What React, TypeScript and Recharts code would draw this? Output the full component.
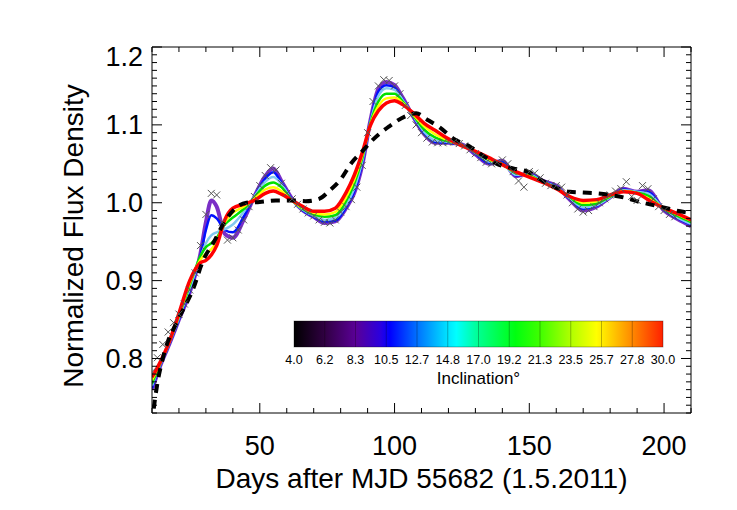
import React from 'react';
import { ComposedChart, Line, Scatter, XAxis, YAxis } from 'recharts';

// model days shared by the coloured fits
const fitDays = [10, 13, 16, 20, 24, 28, 30, 32, 34, 37, 40, 44, 48, 52, 55, 58, 62, 66, 70, 74, 78, 82, 85, 88, 91, 94, 97, 100, 103, 107, 111, 115, 120, 125, 130, 135, 140, 145, 150, 155, 160, 165, 170, 175, 180, 185, 190, 194, 200, 205, 210];

const fitPurple = [0.760, 0.790, 0.815, 0.850, 0.885, 0.935, 0.975, 1.003, 0.995, 0.960, 0.955, 0.978, 1.008, 1.034, 1.044, 1.028, 1.005, 0.990, 0.982, 0.974, 0.976, 0.993, 1.012, 1.048, 1.105, 1.146, 1.155, 1.151, 1.135, 1.110, 1.088, 1.077, 1.077, 1.075, 1.062, 1.050, 1.054, 1.034, 1.038, 1.028, 1.022, 1.004, 0.990, 0.995, 1.007, 1.018, 1.014, 1.016, 0.990, 0.979, 0.970];
const fitBlue = [0.762, 0.791, 0.815, 0.850, 0.887, 0.932, 0.965, 0.984, 0.980, 0.965, 0.962, 0.982, 1.008, 1.031, 1.039, 1.026, 1.004, 0.990, 0.982, 0.976, 0.977, 0.994, 1.014, 1.050, 1.104, 1.143, 1.151, 1.148, 1.133, 1.110, 1.089, 1.078, 1.077, 1.074, 1.063, 1.051, 1.052, 1.035, 1.037, 1.028, 1.021, 1.005, 0.992, 0.996, 1.007, 1.017, 1.014, 1.014, 0.991, 0.980, 0.972];
const fitLightBlue = [0.765, 0.792, 0.816, 0.852, 0.890, 0.930, 0.948, 0.958, 0.962, 0.966, 0.972, 0.988, 1.008, 1.027, 1.033, 1.024, 1.003, 0.991, 0.983, 0.978, 0.980, 0.997, 1.018, 1.053, 1.103, 1.137, 1.147, 1.145, 1.132, 1.111, 1.091, 1.080, 1.078, 1.074, 1.064, 1.053, 1.050, 1.036, 1.036, 1.027, 1.020, 1.006, 0.994, 0.997, 1.007, 1.016, 1.014, 1.012, 0.992, 0.981, 0.973];
const fitGreen = [0.768, 0.793, 0.817, 0.854, 0.894, 0.932, 0.943, 0.948, 0.955, 0.972, 0.981, 0.992, 1.007, 1.022, 1.026, 1.020, 1.003, 0.992, 0.985, 0.982, 0.984, 1.002, 1.024, 1.057, 1.102, 1.130, 1.140, 1.140, 1.130, 1.112, 1.094, 1.084, 1.079, 1.074, 1.065, 1.055, 1.050, 1.038, 1.035, 1.027, 1.019, 1.007, 0.997, 0.999, 1.008, 1.015, 1.013, 1.009, 0.992, 0.983, 0.975];
const fitYellow = [0.772, 0.794, 0.818, 0.855, 0.897, 0.927, 0.935, 0.940, 0.950, 0.975, 0.987, 0.995, 1.005, 1.017, 1.020, 1.015, 1.003, 0.993, 0.987, 0.985, 0.988, 1.007, 1.029, 1.060, 1.100, 1.124, 1.134, 1.135, 1.128, 1.113, 1.098, 1.088, 1.080, 1.073, 1.066, 1.056, 1.049, 1.039, 1.034, 1.026, 1.018, 1.008, 1.000, 1.002, 1.009, 1.015, 1.012, 1.006, 0.993, 0.985, 0.977];
const fitRed = [0.776, 0.795, 0.818, 0.858, 0.900, 0.923, 0.926, 0.933, 0.945, 0.978, 0.993, 0.998, 1.003, 1.012, 1.015, 1.011, 1.003, 0.995, 0.989, 0.989, 0.993, 1.013, 1.035, 1.064, 1.099, 1.118, 1.128, 1.131, 1.126, 1.115, 1.102, 1.093, 1.082, 1.073, 1.066, 1.058, 1.049, 1.040, 1.033, 1.026, 1.018, 1.008, 1.003, 1.004, 1.010, 1.014, 1.012, 1.004, 0.993, 0.986, 0.978];

// black dashed model
const dashDays = [10, 11, 12, 14, 16, 18, 21, 25, 29, 33, 37, 41, 45, 50, 56, 62, 67, 72, 76, 80, 84, 88, 92, 98, 104, 108, 112, 117, 122, 128, 133, 138, 144, 150, 155, 160, 165, 170, 175, 180, 186, 191, 196, 201, 206, 210];
const dashFlux = [0.715, 0.745, 0.768, 0.800, 0.823, 0.838, 0.859, 0.887, 0.926, 0.950, 0.976, 0.993, 1.000, 1.001, 1.003, 1.003, 1.002, 1.005, 1.016, 1.030, 1.051, 1.066, 1.081, 1.098, 1.111, 1.115, 1.107, 1.096, 1.082, 1.072, 1.060, 1.050, 1.044, 1.039, 1.028, 1.019, 1.014, 1.013, 1.012, 1.010, 1.006, 1.001, 0.997, 0.993, 0.989, 0.987];

// observed points (crosses)
const obsDays = [10, 12, 14, 16, 18, 20, 22, 24, 26, 28, 30, 32, 34, 36, 38, 40, 42, 44, 46, 48, 50, 52, 54, 56, 58, 60, 62, 64, 66, 68, 70, 72, 74, 76, 78, 80, 82, 84, 86, 88, 90, 92, 94, 96, 98, 100, 102, 104, 106, 108, 110, 112, 114, 116, 118, 120, 122, 124, 126, 128, 130, 132, 134, 136, 138, 140, 142, 144, 146, 148, 150, 152, 154, 156, 158, 160, 162, 164, 166, 168, 170, 172, 174, 176, 178, 180, 182, 184, 186, 188, 190, 192, 194, 196, 198, 200, 202, 204];
const obsFlux = [0.783, 0.801, 0.818, 0.834, 0.846, 0.857, 0.870, 0.888, 0.910, 0.945, 0.985, 1.012, 1.010, 0.975, 0.952, 0.955, 0.965, 0.978, 0.995, 1.008, 1.022, 1.035, 1.045, 1.042, 1.025, 1.012, 1.005, 0.998, 0.992, 0.987, 0.983, 0.978, 0.975, 0.974, 0.978, 0.988, 0.995, 1.004, 1.020, 1.048, 1.090, 1.130, 1.150, 1.158, 1.157, 1.150, 1.140, 1.125, 1.112, 1.100, 1.090, 1.083, 1.078, 1.077, 1.077, 1.078, 1.078, 1.076, 1.073, 1.068, 1.063, 1.058, 1.052, 1.050, 1.052, 1.055, 1.050, 1.040, 1.028, 1.020, 1.040, 1.038, 1.032, 1.025, 1.022, 1.022, 1.020, 1.010, 1.000, 0.992, 0.988, 0.990, 0.995, 1.000, 1.005, 1.010, 1.015, 1.018, 1.027, 1.008, 1.003, 1.022, 1.018, 1.005, 0.995, 0.990, 0.985, 0.982];

const xTicks = [10, 20, 30, 40, 50, 60, 70, 80, 90, 100, 110, 120, 130, 140, 150, 160, 170, 180, 190, 200, 210];
const xMajor = [50, 100, 150, 200];
const yMajor = [0.8, 0.9, 1.0, 1.1, 1.2];
const yLabels = ['0.8', '0.9', '1.0', '1.1', '1.2'];
const cbarLabels = ['4.0', '6.2', '8.3', '10.5', '12.7', '14.8', '17.0', '19.2', '21.3', '23.5', '25.7', '27.8', '30.0'];

const FONT = '"Liberation Sans", Arial, Helvetica, sans-serif';

const pts = (days: number[], vals: number[]) => days.map((d, i) => ({ d, v: vals[i] }));

const yTicks: number[] = [];
for (let i = 73; i <= 120; i++) yTicks.push(i / 100);
const isMajorY = (v: number) => yMajor.some((m) => Math.abs(m - v) < 1e-6);

const fits = [
  { name: 'i6', vals: fitPurple, color: '#7a2fc6', w: 4 },
  { name: 'i10', vals: fitBlue, color: '#0010ff', w: 2.5 },
  { name: 'i14', vals: fitLightBlue, color: '#82c8f0', w: 2.5 },
  { name: 'i20', vals: fitGreen, color: '#00e000', w: 2.5 },
  { name: 'i25', vals: fitYellow, color: '#ffff00', w: 2.5 },
  { name: 'i30', vals: fitRed, color: '#ff0000', w: 3.5 },
];

const BottomTick = (p: any) => {
  const major = xMajor.includes(p.payload.value);
  return (
    <g>
      <line x1={p.x} y1={p.y} x2={p.x} y2={p.y - (major ? 10 : 5)} stroke="#000" />
      {major && (
        <text x={p.x} y={p.y + 42} textAnchor="middle" fontSize={27} fontFamily={FONT} fill="#000">
          {p.payload.value}
        </text>
      )}
    </g>
  );
};

const TopTick = (p: any) => {
  const major = xMajor.includes(p.payload.value);
  return <line x1={p.x} y1={p.y} x2={p.x} y2={p.y + (major ? 10 : 5)} stroke="#000" />;
};

const LeftTick = (p: any) => {
  const v = p.payload.value;
  const idx = yMajor.findIndex((m) => Math.abs(m - v) < 1e-6);
  const major = idx >= 0;
  const base = v > 1.19 ? p.y + 19 : p.y + 9.5;
  return (
    <g>
      <line x1={p.x} y1={p.y} x2={p.x + (major ? 10 : 5)} y2={p.y} stroke="#000" />
      {major && (
        <text x={p.x - 9} y={base} textAnchor="end" fontSize={27} fontFamily={FONT} fill="#000">
          {yLabels[idx]}
        </text>
      )}
    </g>
  );
};

const RightTick = (p: any) => {
  const major = isMajorY(p.payload.value);
  return <line x1={p.x} y1={p.y} x2={p.x - (major ? 10 : 5)} y2={p.y} stroke="#000" />;
};

const Cross = (p: any) => {
  const { cx, cy } = p;
  const s = 3.5;
  return (
    <g stroke="#555" strokeWidth={1}>
      <line x1={cx - s} y1={cy - s} x2={cx + s} y2={cy + s} />
      <line x1={cx - s} y1={cy + s} x2={cx + s} y2={cy - s} />
    </g>
  );
};

const CB_X = 294;
const CB_W = 369;
const CB_Y = 321;
const CB_H = 26;

export default function App() {
  return (
    <div style={{ position: 'absolute', left: 0, top: 0, width: 737, height: 510, background: '#fff' }}>
      <ComposedChart width={737} height={510} margin={{ top: 46, right: 45, bottom: 37, left: 72 }}>
        <XAxis
          xAxisId={0}
          dataKey="d"
          type="number"
          domain={[10, 210]}
          allowDataOverflow
          ticks={xTicks}
          interval={0}
          height={60}
          tickSize={0}
          tickMargin={0}
          tickLine={false}
          axisLine={{ stroke: '#000' }}
          tick={<BottomTick />}
        />
        <XAxis
          xAxisId="top"
          orientation="top"
          dataKey="d"
          type="number"
          domain={[10, 210]}
          allowDataOverflow
          ticks={xTicks}
          interval={0}
          height={1}
          tickSize={0}
          tickMargin={0}
          tickLine={false}
          axisLine={{ stroke: '#000' }}
          tick={<TopTick />}
        />
        <YAxis
          yAxisId={0}
          type="number"
          domain={[0.73, 1.2]}
          allowDataOverflow
          ticks={yTicks}
          interval={0}
          width={80}
          tickSize={0}
          tickMargin={0}
          tickLine={false}
          axisLine={{ stroke: '#000' }}
          tick={<LeftTick />}
        />
        <YAxis
          yAxisId="right"
          orientation="right"
          type="number"
          domain={[0.73, 1.2]}
          allowDataOverflow
          ticks={yTicks}
          interval={0}
          width={1}
          tickSize={0}
          tickMargin={0}
          tickLine={false}
          axisLine={{ stroke: '#000' }}
          tick={<RightTick />}
        />
        <Scatter data={pts(obsDays, obsFlux)} dataKey="v" shape={<Cross />} isAnimationActive={false} />
        {fits.map((f) => (
          <Line
            key={f.name}
            data={pts(fitDays, f.vals)}
            dataKey="v"
            type="monotone"
            stroke={f.color}
            strokeWidth={f.w}
            dot={false}
            isAnimationActive={false}
          />
        ))}
        <Line
          data={pts(dashDays, dashFlux)}
          dataKey="v"
          type="monotone"
          stroke="#000"
          strokeWidth={4}
          strokeDasharray="9 7"
          dot={false}
          isAnimationActive={false}
        />
        {/* invisible copy so the mirrored top/right axes are used */}
        <Line
          xAxisId="top"
          yAxisId="right"
          data={pts(fitDays, fitRed)}
          dataKey="v"
          stroke="none"
          dot={false}
          legendType="none"
          isAnimationActive={false}
        />
      </ComposedChart>
      <svg
        width={737}
        height={510}
        style={{ position: 'absolute', left: 0, top: 0, pointerEvents: 'none' }}
        fontFamily={FONT}
      >
        <defs>
          <linearGradient id="rainbow" x1="0" y1="0" x2="1" y2="0">
            <stop offset="0" stopColor="#000000" />
            <stop offset="0.083" stopColor="#300042" />
            <stop offset="0.167" stopColor="#5a0096" />
            <stop offset="0.235" stopColor="#2a00e0" />
            <stop offset="0.26" stopColor="#0000ff" />
            <stop offset="0.333" stopColor="#0070ff" />
            <stop offset="0.42" stopColor="#00e8ff" />
            <stop offset="0.44" stopColor="#00ffff" />
            <stop offset="0.5" stopColor="#00ff90" />
            <stop offset="0.6" stopColor="#00ff10" />
            <stop offset="0.667" stopColor="#40ff00" />
            <stop offset="0.75" stopColor="#b0ff00" />
            <stop offset="0.82" stopColor="#ffff00" />
            <stop offset="0.917" stopColor="#ff8800" />
            <stop offset="1" stopColor="#ff2000" />
          </linearGradient>
        </defs>
        <rect x={CB_X} y={CB_Y} width={CB_W} height={CB_H} fill="url(#rainbow)" stroke="rgba(0,0,0,0.4)" strokeWidth={0.8} />
        {cbarLabels.map((t, i) => {
          const x = CB_X + (i * CB_W) / (cbarLabels.length - 1);
          return (
            <g key={t}>
              {i > 0 && i < cbarLabels.length - 1 && (
                <line x1={x} y1={CB_Y} x2={x} y2={CB_Y + CB_H} stroke="rgba(0,0,0,0.35)" strokeWidth={0.8} />
              )}
              <text x={x} y={363.5} textAnchor="middle" fontSize={12.5} fill="#000">
                {t}
              </text>
            </g>
          );
        })}
        <text x={478.5} y={383.5} textAnchor="middle" fontSize={17} fill="#000">
          Inclination°
        </text>
        <text x={421.5} y={488} textAnchor="middle" fontSize={28} fill="#000">
          Days after MJD 55682 (1.5.2011)
        </text>
        <text
          x={0}
          y={0}
          transform="translate(83 236) rotate(-90)"
          textAnchor="middle"
          fontSize={28}
          fill="#000"
        >
          Normalized Flux Density
        </text>
      </svg>
    </div>
  );
}
